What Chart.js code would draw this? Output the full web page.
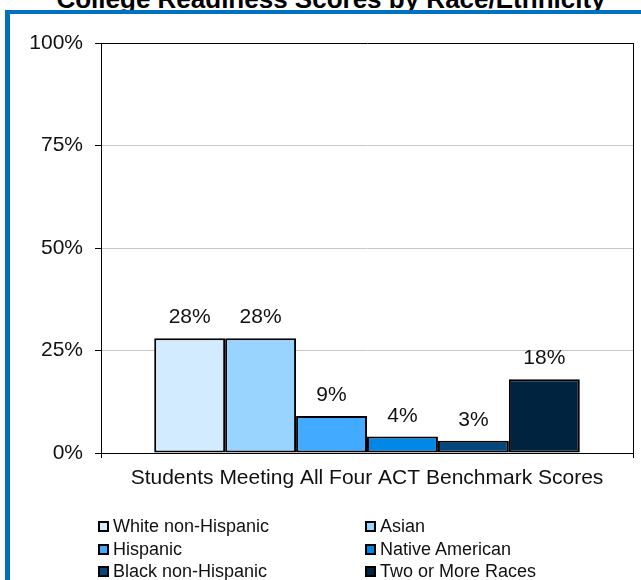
<!DOCTYPE html>
<html>
<head>
<meta charset="utf-8">
<script src="https://cdn.jsdelivr.net/npm/chart.js@4"></script>
<style>
  body { margin: 0; background: #fff; width: 641px; height: 580px; overflow: hidden; position: relative; font-family: "Liberation Sans", Arial, sans-serif; }
  #frame { position: absolute; left: 5px; top: 10px; width: 700px; height: 700px; border-left: 5px solid #0070C0; border-top: 4px solid #0070C0; z-index: 2; }
  #title { position: absolute; left: 0; width: 662px; top: -14px; text-align: center; font-weight: bold; font-size: 26px; line-height: 26px; color: #000; z-index: 1; white-space: nowrap; }
  #chartBox { position: absolute; left: 0; top: 0; z-index: 3; }
  .leg { position: absolute; font-size: 18px; line-height: 20px; color: #111; white-space: nowrap; z-index: 3; }
  .leg span.box { position: absolute; left: 0; top: 5px; width: 7px; height: 7px; border: 2px solid #000; }
  .leg span.txt { position: absolute; left: 15px; top: 0; }
</style>
</head>
<body>
<div id="title">College Readiness Scores by Race/Ethnicity</div>
<div id="frame"></div>
<canvas id="chartBox" width="641" height="580"></canvas>
<div id="legend"></div>
<script>
// données
var categories = ['Students Meeting All Four ACT Benchmark Scores'];
var groupes = ['White non-Hispanic', 'Asian', 'Hispanic', 'Native American', 'Black non-Hispanic', 'Two or More Races'];
var valeurs = [28, 28, 9, 4, 3, 18];
var couleurs = ['#D3EBFF', '#99D3FF', '#42AAFF', '#0088E6', '#00487F', '#002440'];
var yTicks = [0, 25, 50, 75, 100];

var police = '"Liberation Sans", Arial, sans-serif';

var datasets = groupes.map(function (g, i) {
    return {
        label: g,
        data: [valeurs[i]],
        backgroundColor: couleurs[i],
        borderColor: '#000',
        borderWidth: 2,
        borderSkipped: false,
        categoryPercentage: 0.8,
        barPercentage: 1.0
    };
});

// étiquettes au-dessus des barres
var etiquettes = {
    id: 'etiquettes',
    afterDatasetsDraw: function (chart) {
        var ctx = chart.ctx;
        ctx.save();
        ctx.font = '21px ' + police;
        ctx.fillStyle = '#111';
        ctx.textAlign = 'center';
        ctx.textBaseline = 'alphabetic';
        chart.data.datasets.forEach(function (ds, i) {
            var meta = chart.getDatasetMeta(i);
            meta.data.forEach(function (bar, j) {
                ctx.fillText(ds.data[j] + '%', bar.x, bar.y - 15);
            });
        });
        ctx.restore();
    }
};

var ctx = document.getElementById('chartBox').getContext('2d');
var chart = new Chart(ctx, {
    type: 'bar',
    data: {
        labels: categories,
        datasets: datasets
    },
    plugins: [etiquettes],
    options: {
        responsive: false,
        animation: false,
        devicePixelRatio: 1,
        layout: { padding: { top: 43, right: 8, left: 0, bottom: 0 } },
        plugins: {
            legend: { display: false },
            tooltip: { enabled: false },
            title: { display: false }
        },
        scales: {
            x: {
                offset: true,
                grid: { offset: true, color: '#000', tickColor: '#000', tickLength: 5, drawOnChartArea: true },
                border: { color: '#000', width: 1 },
                ticks: { color: '#111', font: { family: police, size: 21 }, padding: 8 },
                afterFit: function (scale) { scale.height = 127; }
            },
            y: {
                min: 0,
                max: 100,
                afterBuildTicks: function (scale) {
                    scale.ticks = yTicks.map(function (v) { return { value: v }; });
                },
                grid: {
                    color: function (c) { return (c.tick && (c.tick.value === 100 || c.tick.value === 0)) ? '#000' : '#C8C8C8'; },
                    tickColor: '#000',
                    tickLength: 6
                },
                border: { color: '#000', width: 1 },
                ticks: {
                    color: '#111',
                    font: { family: police, size: 21 },
                    padding: 12,
                    callback: function (v) { return v + '%'; }
                },
                afterFit: function (scale) { scale.width = 101; }
            }
        }
    }
});

// légende en deux colonnes
var legende = document.getElementById('legend');
var colX = [98, 365];
var rowY = [516, 539, 561];
chart.data.datasets.forEach(function (ds, i) {
    var item = document.createElement('div');
    item.className = 'leg';
    item.style.left = colX[i % 2] + 'px';
    item.style.top = rowY[Math.floor(i / 2)] + 'px';
    item.innerHTML = '<span class="box" style="background:' + ds.backgroundColor + '"></span><span class="txt">' + ds.label + '</span>';
    legende.appendChild(item);
});
</script>
</body>
</html>
